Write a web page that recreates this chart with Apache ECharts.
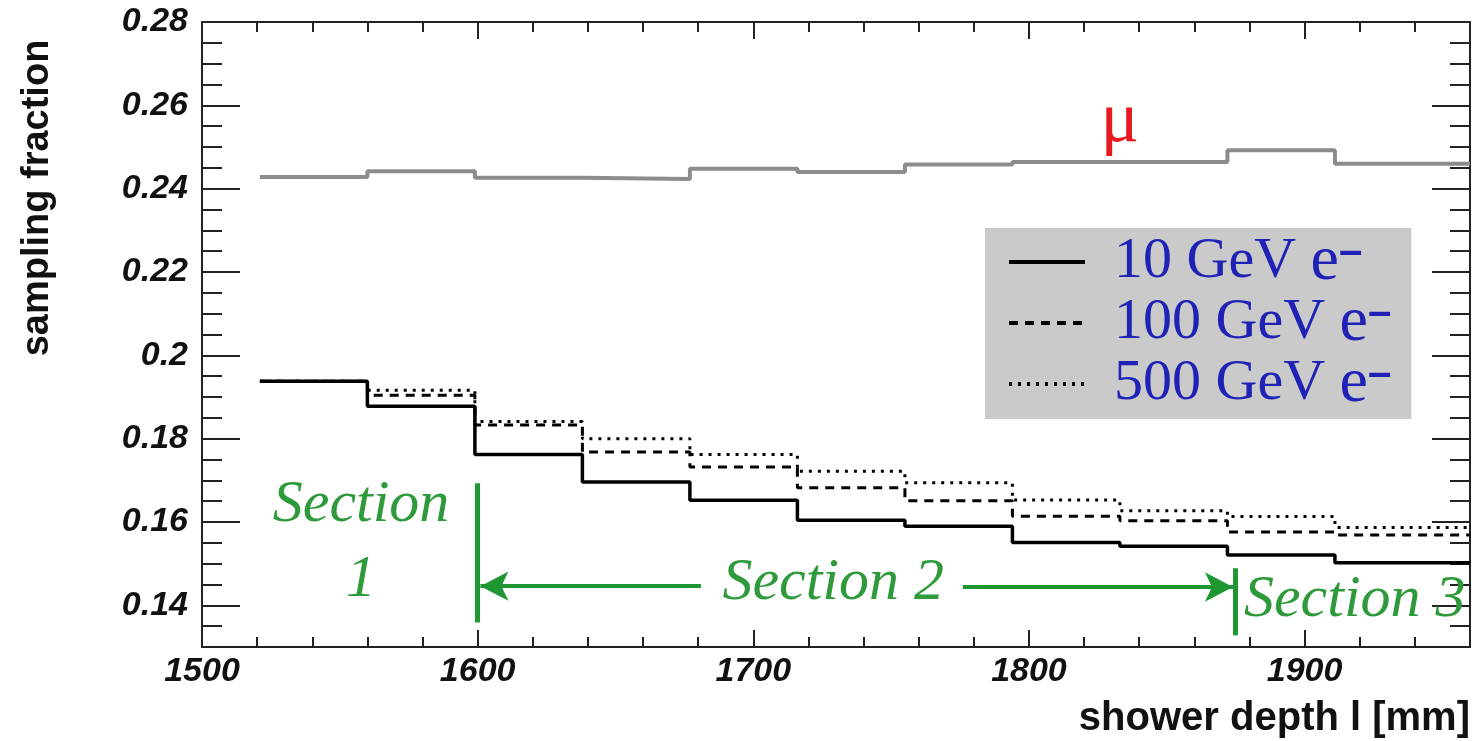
<!DOCTYPE html>
<html><head><meta charset="utf-8">
<script src="https://cdn.jsdelivr.net/npm/echarts@6/dist/echarts.min.js"></script>
<style>html,body{margin:0;padding:0;background:#fff}#c{width:1476px;height:741px}</style>
</head><body><div id="c"></div>
<script>
// ---- data ----
const binEdges = [1521, 1560, 1599, 1638, 1677, 1716, 1755, 1794, 1833, 1872, 1911];
const xEnd = 1960;
const muon = [0.2428, 0.2442, 0.2426, 0.2423, 0.2448, 0.2440, 0.2458, 0.2464, 0.2464, 0.2492, 0.2460];
const e10  = [0.1938, 0.1878, 0.1762, 0.1696, 0.1652, 0.1604, 0.1590, 0.1551, 0.1542, 0.1521, 0.1502];
const e100 = [0.1938, 0.1904, 0.1833, 0.1768, 0.1732, 0.1682, 0.1651, 0.1614, 0.1603, 0.1576, 0.1569];
const e500 = [0.1938, 0.1916, 0.1841, 0.1800, 0.1762, 0.1722, 0.1694, 0.1653, 0.1627, 0.1613, 0.1587];
const seriesNames = ['10 GeV', '100 GeV', '500 GeV'];
const xTickLabels = [1500, 1600, 1700, 1800, 1900];
const yTickLabels = [0.14, 0.16, 0.18, 0.2, 0.22, 0.24, 0.26, 0.28];

// ---- helpers ----
function steps(vals) {
  const d = binEdges.map((x, i) => [x, vals[i]]);
  d.push([xEnd, vals[vals.length - 1]]);
  return d;
}
const AX = '#222';
const GREEN = '#1e9632';
const GREEN_TXT = '#2f9a3c';
const tickFont = {fontFamily: 'Liberation Sans', fontStyle: 'italic', fontWeight: 'bold', fontSize: 34, color: '#111'};

function majorX(pos, labels) {
  return {gridIndex: 0, type: 'value', min: 1500, max: xEnd, position: pos,
    axisLine: {show: true, onZero: false, lineStyle: {color: AX, width: 2}},
    axisTick: {show: true, inside: true, length: 17, customValues: xTickLabels, lineStyle: {color: AX, width: 2}},
    axisLabel: labels ? Object.assign({show: true, customValues: xTickLabels, margin: 8, formatter: v => String(v)}, tickFont) : {show: false},
    splitLine: {show: false}};
}
function minorX(pos) {
  return {gridIndex: 1, type: 'value', min: 1500, max: xEnd, interval: 20, position: pos,
    axisLine: {show: false, onZero: false},
    axisTick: {show: true, inside: true, length: 10, lineStyle: {color: AX, width: 2}},
    axisLabel: {show: false}, splitLine: {show: false}};
}
function majorY(pos, labels) {
  return {gridIndex: 0, type: 'value', min: 0.13, max: 0.28, position: pos,
    axisLine: {show: true, onZero: false, lineStyle: {color: AX, width: 2}},
    axisTick: {show: true, inside: true, length: 38, customValues: yTickLabels, lineStyle: {color: AX, width: 2}},
    axisLabel: labels ? Object.assign({show: true, customValues: yTickLabels, margin: 14, formatter: v => String(v)}, tickFont) : {show: false},
    splitLine: {show: false}};
}
function minorY(pos) {
  return {gridIndex: 1, type: 'value', min: 0.13, max: 0.28, interval: 0.005, position: pos,
    axisLine: {show: false, onZero: false},
    axisTick: {show: true, inside: true, length: 20, lineStyle: {color: AX, width: 2}},
    axisLabel: {show: false}, splitLine: {show: false}};
}

const gridRect = {left: 202, right: 6, top: 22, bottom: 94};

const option = {
  animation: false,
  backgroundColor: '#ffffff',
  grid: [Object.assign({}, gridRect), Object.assign({}, gridRect)],
  xAxis: [majorX('bottom', true), majorX('top', false), minorX('bottom'), minorX('top')],
  yAxis: [majorY('left', true), majorY('right', false), minorY('left'), minorY('right')],
  legend: {
    orient: 'vertical', left: 985, top: 228,
    padding: [2, 20, 3, 22],
    itemWidth: 76, itemHeight: 4, itemGap: -3,
    itemStyle: {opacity: 0},
    lineStyle: {width: 4},
    backgroundColor: '#cacaca',
    data: seriesNames,
    formatter: n => '{t|' + n + ' }{e|e}{m|\u2013}',
    textStyle: {
      color: '#1f22b5',
      rich: {
        t: {fontFamily: 'Liberation Serif', fontSize: 58, color: '#1f22b5', padding: [0, 0, 0, 24]},
        e: {fontFamily: 'Liberation Serif', fontSize: 64, color: '#1f22b5'},
        m: {fontFamily: 'Liberation Sans', fontWeight: 'bold', fontSize: 42, color: '#1f22b5', padding: [0, 0, 20, 0]}
      }
    }
  },
  series: [
    {name: 'mu', type: 'line', step: 'end', symbol: 'none', data: steps(muon),
      lineStyle: {color: '#8c8c8c', width: 4}, z: 2},
    {name: seriesNames[2], type: 'line', step: 'end', symbol: 'none', data: steps(e500),
      itemStyle: {color: '#000'}, lineStyle: {color: '#000', width: 3, type: [3, 6]}, z: 3},
    {name: seriesNames[1], type: 'line', step: 'end', symbol: 'none', data: steps(e100),
      itemStyle: {color: '#000'}, lineStyle: {color: '#000', width: 3, type: [9, 7]}, z: 4},
    {name: seriesNames[0], type: 'line', step: 'end', symbol: 'none', data: steps(e10),
      itemStyle: {color: '#000'}, lineStyle: {color: '#000', width: 3.5}, z: 5,
      markLine: {
        silent: true, animation: false, symbolSize: [22, 28],
        label: {show: false},
        lineStyle: {color: GREEN, type: 'solid'},
        data: [
          [{coord: [1600, 0.1693], symbol: 'none', lineStyle: {width: 5, color: GREEN}}, {coord: [1600, 0.1359], symbol: 'none'}],
          [{coord: [1875, 0.1489], symbol: 'none', lineStyle: {width: 5, color: GREEN}}, {coord: [1875, 0.1328], symbol: 'none'}],
          [{coord: [1681, 0.1446], symbol: 'none', lineStyle: {width: 4, color: GREEN}}, {coord: [1601, 0.1446], symbol: 'arrow'}],
          [{coord: [1776, 0.1444], symbol: 'none', lineStyle: {width: 4, color: GREEN}}, {coord: [1874, 0.1444], symbol: 'arrow'}]
        ]
      }}
  ]
};

const chart = echarts.init(document.getElementById('c'), null, {renderer: 'canvas'});
chart.setOption(option);

const px = (x, y) => chart.convertToPixel({gridIndex: 0}, [x, y]);
const secFont = {fontFamily: 'Liberation Serif', fontStyle: 'italic', fontSize: 60, fill: GREEN_TXT};
const notes = [
  {text: 'Section', at: [1557.7, 0.1640], align: 'center'},
  {text: '1', at: [1557.7, 0.1460], align: 'center'},
  {text: 'Section 2', at: [1729, 0.1453], align: 'center'},
  {text: 'Section 3', at: [1878, 0.1412], align: 'left'}
];
const graphics = notes.map(n => {
  const p = px(n.at[0], n.at[1]);
  return {type: 'text', x: p[0], y: p[1], z: 10,
    style: Object.assign({text: n.text, textAlign: n.align, textVerticalAlign: 'middle'}, secFont)};
});
const mu = px(1833, 0.2559);
graphics.push({type: 'text', x: mu[0], y: mu[1], z: 10,
  style: {text: '\u03bc', fontFamily: 'Liberation Serif', fontSize: 72, fill: '#e8191e', textAlign: 'center', textVerticalAlign: 'middle'}});
graphics.push({type: 'text', x: 38, y: 198, rotation: Math.PI / 2, z: 10,
  style: {text: 'sampling fraction', fontFamily: 'Liberation Sans', fontWeight: 'bold', fontSize: 38, fill: '#111', textAlign: 'center', textVerticalAlign: 'middle'}});
graphics.push({type: 'text', x: 1470, y: 719, z: 10,
  style: {text: 'shower depth l [mm]', fontFamily: 'Liberation Sans', fontWeight: 'bold', fontSize: 40, fill: '#111', textAlign: 'right', textVerticalAlign: 'middle'}});
chart.setOption({graphic: graphics});
</script>
</body></html>
